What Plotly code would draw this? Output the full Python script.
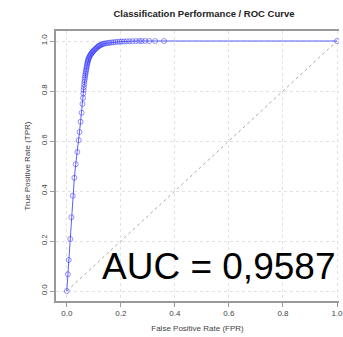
import plotly.graph_objects as go

fpr = [0, 0.004, 0.007, 0.013, 0.017, 0.022, 0.028, 0.033, 0.039, 0.044, 0.047, 0.051, 0.055, 0.058,
       0.060, 0.061, 0.062, 0.063, 0.064, 0.065, 0.066, 0.067, 0.068, 0.069, 0.070, 0.071, 0.072, 0.073,
       0.074, 0.075, 0.076, 0.077, 0.078, 0.079, 0.080, 0.082, 0.083, 0.085, 0.087, 0.089, 0.091, 0.093,
       0.095, 0.097, 0.099, 0.102, 0.105, 0.108, 0.111, 0.114, 0.117, 0.120, 0.123, 0.127, 0.131, 0.135,
       0.140, 0.146, 0.152, 0.158, 0.165, 0.172, 0.180, 0.188, 0.196, 0.204, 0.212, 0.222, 0.232, 0.243,
       0.256, 0.268, 0.277, 0.290, 0.305, 0.327, 0.360, 1.000]
tpr = [0, 0.067, 0.124, 0.208, 0.295, 0.381, 0.453, 0.507, 0.556, 0.603, 0.636, 0.677, 0.713, 0.748,
       0.772, 0.790, 0.804, 0.815, 0.826, 0.836, 0.845, 0.853, 0.861, 0.868, 0.875, 0.881, 0.887, 0.893,
       0.899, 0.905, 0.910, 0.915, 0.920, 0.924, 0.928, 0.932, 0.936, 0.940, 0.944, 0.947, 0.950, 0.953,
       0.956, 0.959, 0.961, 0.964, 0.967, 0.970, 0.973, 0.976, 0.979, 0.981, 0.983, 0.985, 0.987, 0.989,
       0.990, 0.991, 0.992, 0.993, 0.994, 0.995, 0.996, 0.997, 0.997, 0.998, 0.998, 0.999, 0.999, 0.999,
       1.000, 1.000, 1.000, 1.000, 1.000, 1.000, 1.000, 1.000]
diag = [0, 1]
tick_vals = [0, 0.2, 0.4, 0.6, 0.8, 1.0]
tick_text = ["0.0", "0.2", "0.4", "0.6", "0.8", "1.0"]
auc_label = "AUC = 0,9587"

fig = go.Figure()
fig.add_trace(go.Scatter(x=diag, y=diag, mode="lines",
                         line=dict(color="#aaaaaa", width=1, dash="dot"), hoverinfo="skip"))
fig.add_trace(go.Scatter(x=fpr, y=tpr, mode="lines+markers",
                         line=dict(color="rgba(40,40,255,0.75)", width=1),
                         marker=dict(symbol="circle-open", size=5,
                                     color="rgba(60,60,255,0.55)", line=dict(width=1))))

fig.add_annotation(x=0.56, y=0.10, xref="x", yref="y", text=auc_label, showarrow=False,
                   font=dict(family="Liberation Sans, Arial", size=37, color="black"))

axis_font = dict(family="Liberation Sans, Arial", size=8, color="#444444")
fig.update_layout(
    width=343, height=337,
    margin=dict(l=56, r=0, t=31, b=36),
    paper_bgcolor="white", plot_bgcolor="white",
    showlegend=False,
    title=dict(text="<b>Classification Performance / ROC Curve</b>", x=204/343, xanchor="center",
               y=1 - 14/337, yanchor="middle",
               font=dict(family="Liberation Sans, Arial", size=9.5, color="#222222")),
    xaxis=dict(range=[-0.04, 1.0074], tickvals=tick_vals, ticktext=tick_text,
               showgrid=True, gridcolor="#e2e2e2", griddash="dot", gridwidth=1,
               zeroline=False, showline=True, linecolor="#999999", linewidth=1.5, mirror=True,
               ticks="outside", ticklen=4, tickcolor="#999999", tickfont=axis_font,
               ticklabeloverflow="allow",
               title=dict(text="False Positive Rate (FPR)", font=axis_font, standoff=8)),
    yaxis=dict(range=[-0.04, 1.04], tickvals=tick_vals, ticktext=tick_text, tickangle=-90,
               showgrid=True, gridcolor="#e2e2e2", griddash="dot", gridwidth=1,
               zeroline=False, showline=True, linecolor="#999999", linewidth=1.5,
               ticks="outside", ticklen=4, tickcolor="#999999", tickfont=axis_font,
               title=dict(text="True Positive Rate (TPR)", font=axis_font, standoff=8)),
)

fig.write_html("out.html")
